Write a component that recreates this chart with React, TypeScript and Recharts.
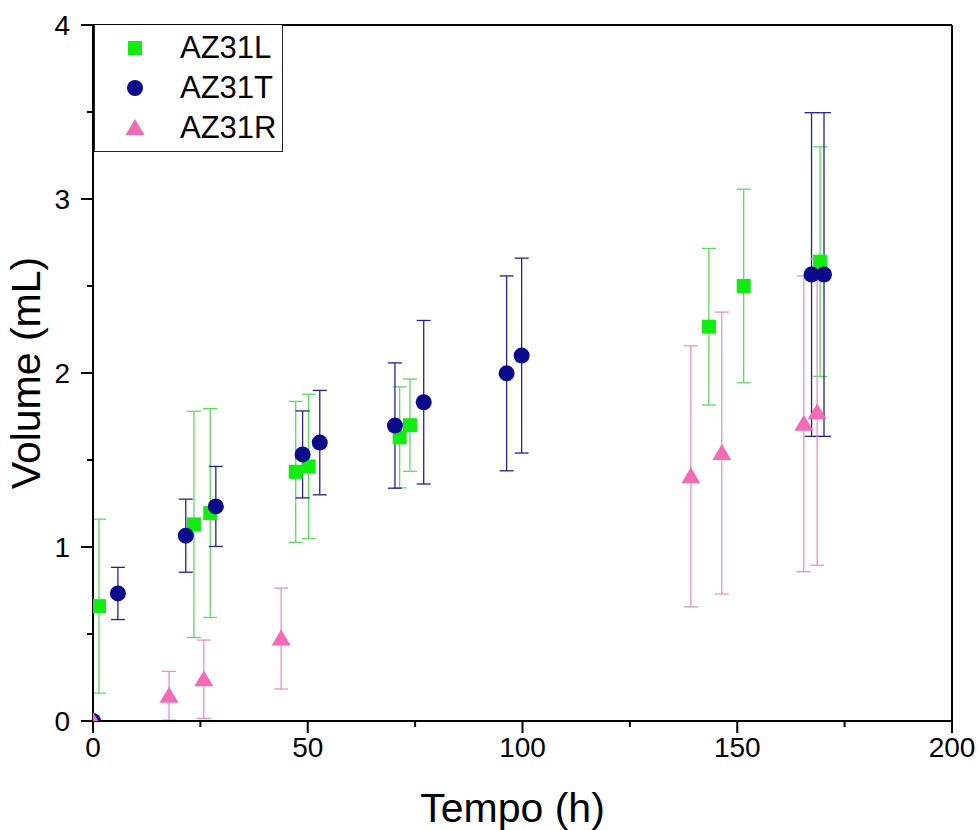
import React from 'react';
import { ScatterChart, Scatter, XAxis, YAxis, ErrorBar, ReferenceLine } from 'recharts';

// ---- data ----
const lX = [1.4, 23.5, 27.3, 47.2, 50.2, 71.4, 73.8, 143.4, 151.5, 169.3];
const lY = [0.66, 1.13, 1.195, 1.432, 1.463, 1.63, 1.7, 2.266, 2.5, 2.64];
const lErr = [0.5, 0.65, 0.6, 0.405, 0.415, 0.29, 0.265, 0.45, 0.556, 0.66];

const tX = [0, 5.8, 21.6, 28.6, 48.8, 52.8, 70.3, 77.0, 96.3, 99.8, 167.3, 170.2];
const tY = [0, 0.733, 1.065, 1.233, 1.532, 1.6, 1.698, 1.832, 1.998, 2.1, 2.566, 2.566];
const tErr = [0, 0.15, 0.21, 0.23, 0.25, 0.3, 0.36, 0.47, 0.56, 0.56, 0.93, 0.93];

const rX = [0, 17.7, 25.8, 43.8, 139.2, 146.4, 165.5, 168.6];
const rY = [0, 0.145, 0.24, 0.474, 1.406, 1.54, 1.708, 1.775];
const rErr = [0, 0.14, 0.225, 0.29, 0.75, 0.81, 0.85, 0.88];

const seriesNames = ['AZ31L', 'AZ31T', 'AZ31R'];

const xTicks = [0, 25, 50, 75, 100, 125, 150, 175, 200];
const xMajor = [0, 50, 100, 150, 200];
const yTicks = [0, 0.5, 1, 1.5, 2, 2.5, 3, 3.5, 4];
const yMajor = [0, 1, 2, 3, 4];

const xTitle = 'Tempo (h)';
const yTitle = 'Volume (mL)';

const build = (xs: number[], ys: number[], es: number[]) =>
  xs.map((x, i) => ({ x, y: ys[i], err: es[i] }));

const lData = build(lX, lY, lErr);
const tData = build(tX, tY, tErr);
const rData = build(rX, rY, rErr);

const FONT = '"Liberation Sans", Arial, Helvetica, sans-serif';
const GREEN = '#12ec12';
const GREEN_ERR = '#62d862';
const BLUE = '#0a0a8a';
const BLUE_ERR = '#23238f';
const PINK = '#f26bb5';
const PINK_ERR = '#e592c9';

const TICK_SIZE = 12;
const TICK_MARGIN = 4;

// ---- marker shapes ----
const Square = (props: any) => {
  const { cx, cy, fill } = props;
  if (cx == null || cy == null) return null;
  return <rect x={cx - 7} y={cy - 7} width={14} height={14} fill={fill} />;
};
const Circle = (props: any) => {
  const { cx, cy, fill } = props;
  if (cx == null || cy == null) return null;
  return <circle cx={cx} cy={cy} r={8} fill={fill} />;
};
const Triangle = (props: any) => {
  const { cx, cy, fill } = props;
  if (cx == null || cy == null) return null;
  return (
    <polygon
      points={`${cx},${cy - 9} ${cx + 9.5},${cy + 7} ${cx - 9.5},${cy + 7}`}
      fill={fill}
    />
  );
};

// ---- ticks ----
const XTick = (props: any) => {
  const { x, y, payload } = props;
  const major = xMajor.includes(payload.value);
  const axisY = y - TICK_SIZE - TICK_MARGIN;
  return (
    <g>
      <line x1={x} x2={x} y1={axisY} y2={axisY + (major ? 12 : 6)} stroke="#000" strokeWidth={2} />
      {major && (
        <text x={x} y={axisY + 36} textAnchor="middle" fontSize={28} fill="#000" fontFamily={FONT}>
          {payload.value}
        </text>
      )}
    </g>
  );
};

const YTick = (props: any) => {
  const { x, y, payload } = props;
  const major = yMajor.includes(payload.value);
  const axisX = x + TICK_SIZE + TICK_MARGIN;
  return (
    <g>
      <line x1={axisX} x2={axisX - (major ? 12 : 6)} y1={y} y2={y} stroke="#000" strokeWidth={2} />
      {major && (
        <text x={axisX - 23} y={y + 10} textAnchor="end" fontSize={28} fill="#000" fontFamily={FONT}>
          {payload.value}
        </text>
      )}
    </g>
  );
};

const XTitle = (props: any) => {
  const vb = props.viewBox || { x: 0, y: 0, width: 0, height: 0 };
  return (
    <text
      x={vb.x + vb.width / 2 - 10}
      y={vb.y + vb.height - 8}
      textAnchor="middle"
      fontSize={41}
      fill="#000"
      fontFamily={FONT}
    >
      {xTitle}
    </text>
  );
};

const YTitle = (props: any) => {
  const vb = props.viewBox || { x: 0, y: 0, width: 0, height: 0 };
  const cx = vb.x + 40;
  const cy = vb.y + vb.height / 2;
  return (
    <text
      x={cx}
      y={cy}
      transform={`rotate(-90, ${cx}, ${cy})`}
      textAnchor="middle"
      fontSize={41}
      fill="#000"
      fontFamily={FONT}
    >
      {yTitle}
    </text>
  );
};

const legendItems = [
  { name: seriesNames[0], color: GREEN, Shape: Square },
  { name: seriesNames[1], color: BLUE, Shape: Circle },
  { name: seriesNames[2], color: PINK, Shape: Triangle },
];

export default function App() {
  return (
    <div style={{ position: 'absolute', left: 0, top: 0, width: 980, height: 830, background: '#fff' }}>
      <ScatterChart
        width={980}
        height={830}
        margin={{ top: 25, right: 28, left: 0, bottom: 0 }}
        style={{ fontFamily: FONT }}
      >
        <XAxis
          type="number"
          dataKey="x"
          domain={[0, 200]}
          ticks={xTicks}
          allowDataOverflow
          height={109}
          tickSize={TICK_SIZE}
          tickMargin={TICK_MARGIN}
          tickLine={false}
          tick={<XTick />}
          axisLine={{ stroke: '#000', strokeWidth: 2 }}
          label={<XTitle />}
          interval={0}
        />
        <YAxis
          type="number"
          dataKey="y"
          domain={[0, 4]}
          ticks={yTicks}
          allowDataOverflow
          width={93}
          tickSize={TICK_SIZE}
          tickMargin={TICK_MARGIN}
          tickLine={false}
          tick={<YTick />}
          axisLine={{ stroke: '#000', strokeWidth: 2 }}
          label={<YTitle />}
          interval={0}
        />
        <ReferenceLine y={4} stroke="#000" strokeWidth={2} ifOverflow="extendDomain" />
        <ReferenceLine x={200} stroke="#000" strokeWidth={2} ifOverflow="extendDomain" />
        <Scatter name={seriesNames[0]} data={lData} fill={GREEN} shape={<Square />} isAnimationActive={false}>
          <ErrorBar dataKey="err" direction="y" width={7} stroke={GREEN_ERR} strokeWidth={1.3} />
        </Scatter>
        <Scatter name={seriesNames[1]} data={tData} fill={BLUE} shape={<Circle />} isAnimationActive={false}>
          <ErrorBar dataKey="err" direction="y" width={7} stroke={BLUE_ERR} strokeWidth={1.3} />
        </Scatter>
        <Scatter name={seriesNames[2]} data={rData} fill={PINK} shape={<Triangle />} isAnimationActive={false}>
          <ErrorBar dataKey="err" direction="y" width={7} stroke={PINK_ERR} strokeWidth={1.3} />
        </Scatter>
      </ScatterChart>
      <div
        style={{
          position: 'absolute',
          left: 94,
          top: 25,
          width: 189,
          height: 127,
          border: '1px solid #222',
          borderTop: 'none',
          background: '#fff',
          boxSizing: 'border-box',
          fontFamily: FONT,
        }}
      >
        {legendItems.map((it, i) => (
          <div
            key={it.name}
            style={{ position: 'absolute', left: 0, top: 3 + i * 40, height: 40, display: 'flex', alignItems: 'center' }}
          >
            <svg width={80} height={40} style={{ display: 'block' }}>
              <it.Shape cx={40} cy={20} fill={it.color} />
            </svg>
            <span style={{ fontSize: 31, color: '#000', marginLeft: 5, lineHeight: '40px' }}>{it.name}</span>
          </div>
        ))}
      </div>
    </div>
  );
}
